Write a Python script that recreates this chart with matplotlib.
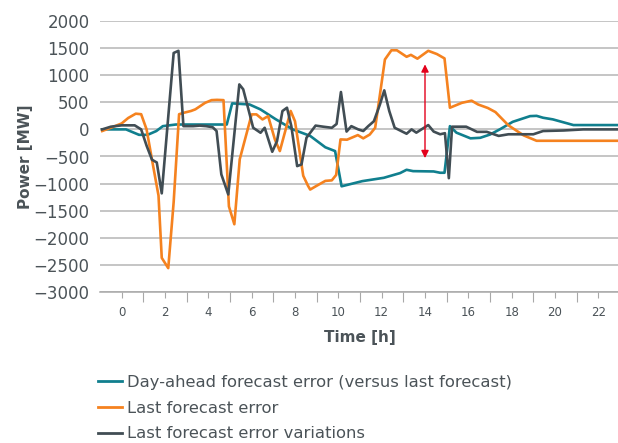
import matplotlib
matplotlib.use("Agg")
import matplotlib.pyplot as plt
from matplotlib.lines import Line2D

plt.rcParams['font.family'] = ['DejaVu Sans']

# Day-ahead forecast error (versus last forecast)
t_da = [-0.9, 0.2, 0.5, 0.8, 1.2, 1.6, 1.9, 2.5, 3.5, 4.5, 4.85, 5.1, 5.9, 6.4, 7.1,
        7.9, 8.7, 9.4, 9.85, 10.15, 11.1, 12.1, 12.85, 13.15, 13.45, 14.4, 14.7,
        14.9, 15.15, 15.45, 16.1, 16.55, 17.0, 17.45, 18.05, 18.85, 19.15, 19.45, 19.9,
        20.85, 22.9]
v_da = [0, 0, -50, -100, -100, -30, 60, 90, 90, 90, 90, 480, 460, 370, 190,
        0, -120, -330, -400, -1050, -955, -893, -806, -745, -770, -776, -800,
        -800, 60, -60, -165, -155, -95, 0, 140, 245, 250, 215, 185,
        80, 80]

# Last forecast error
t_lf = [-0.9, -0.5, 0, 0.3, 0.65, 0.9, 1.15, 1.45, 1.7, 1.85, 2.15, 2.4, 2.65, 2.9, 3.2,
        3.4, 3.85, 4.15, 4.4, 4.7, 4.95, 5.2, 5.45, 6.0, 6.22, 6.5, 6.76, 7.07, 7.3,
        7.8, 8.0, 8.38, 8.6, 8.7, 9.0, 9.4, 9.7, 9.9, 10.1, 10.4, 10.9, 11.15, 11.45,
        11.7, 11.9, 12.15, 12.45, 12.7, 13.15, 13.35, 13.65, 14.15, 14.55, 14.9, 15.15,
        15.7, 16.15, 16.45, 16.9, 17.25, 17.85, 18.55, 19.15, 22.9]
v_lf = [-30, 30, 110, 210, 290, 280, 0, -670, -1220, -2370, -2560, -1340, 280, 310, 340,
        370, 490, 540, 545, 540, -1420, -1750, -550, 277, 277, 184, 245, -184, -400,
        340, 150, -855, -1040, -1110, -1040, -950, -940, -840, -185, -190, -105, -165, -95,
        30, 585, 1290, 1460, 1460, 1340, 1375, 1305, 1450, 1390, 1310, 400,
        490, 530, 460, 395, 320, 75, -110, -210, -210]

# Last forecast error variations
t_var = [-0.9, -0.5, 0, 0.6, 0.9, 1.15, 1.4, 1.62, 1.85, 2.4, 2.62, 2.85, 3.3, 3.6, 3.9,
         4.2, 4.38, 4.6, 4.92, 5.43, 5.61, 6.07, 6.41, 6.6, 6.95, 7.17, 7.42, 7.63, 7.83,
         8.1, 8.3, 8.53, 8.95, 9.3, 9.7, 9.92, 10.12, 10.38, 10.6, 10.92, 11.15, 11.38,
         11.64, 11.92, 12.12, 12.35, 12.6, 13.15, 13.38, 13.6, 14.15, 14.4, 14.7, 14.92,
         15.1, 15.25, 15.9, 16.4, 16.85, 17.4, 17.85, 19.0, 19.45, 20.4, 21.3, 22.9]
v_var = [0, 50, 75, 75, 0, -300, -560, -610, -1180, 1410, 1450, 60, 60, 70, 60,
         40, -30, -830, -1200, 830, 740, 30, -62, 30, -413, -216, 339, 400, 61,
         -677, -647, -154, 70, 50, 30, 100, 690, -40, 60, 0, -30, 60,
         150, 460, 720, 340, 30, -80, 0, -60, 80, -40, -90, -70,
         -900, 50, 50, -45, -45, -120, -90, -90, -30, -20, 0, 0]

labels = ["Day-ahead forecast error (versus last forecast)",
          "Last forecast error",
          "Last forecast error variations"]
colors = ["#107f8e", "#f5821f", "#414d54"]
text_color = "#4b5358"

fig = plt.figure(figsize=(6.18, 4.43), dpi=100)
ax = fig.add_axes([100 / 618, 1 - 292 / 443, 520 / 618, 271 / 443])

for t, v, c in zip([t_da, t_lf, t_var], [v_da, v_lf, v_var], colors):
    ax.plot(t, v, color=c, lw=1.9, solid_joinstyle='round')

# red double arrow marking the gap between the two forecast errors
ax.annotate("", xy=(14, 1200), xytext=(14, -530),
            arrowprops=dict(arrowstyle='<|-|>', color='#e3001b', lw=1.0,
                            mutation_scale=11, shrinkA=0, shrinkB=0))

ax.set_xlim(-1, 23)
ax.set_ylim(-3000, 2000)
ax.set_yticks(range(-3000, 2001, 500))
ax.set_xticks(range(0, 23, 2))
ax.set_xticks(range(1, 23, 2), minor=True)
ax.yaxis.grid(True, color='#b5b5b5', lw=1.1)
ax.set_axisbelow(True)
for s in ['left', 'right', 'top']:
    ax.spines[s].set_visible(False)
ax.spines['bottom'].set_color('#a8a8a8')
ax.spines['bottom'].set_linewidth(1.1)
ax.tick_params(axis='y', length=0, pad=7.5, labelsize=12, labelcolor=text_color)
ax.tick_params(axis='x', which='major', length=4, width=0.8, color='#a8a8a8', pad=6,
               labelsize=8.5, labelcolor=text_color)
ax.tick_params(axis='x', which='minor', length=7, width=0.8, color='#a8a8a8')

ax.set_ylabel("Power [MW]", fontsize=11, fontweight='bold', color=text_color)
ax.yaxis.set_label_coords(-0.128, 0.5)
ax.set_xlabel("Time [h]", fontsize=11, fontweight='bold', color=text_color, labelpad=8)

handles = [Line2D([0], [0], color=c, lw=2) for c in colors]
fig.legend(handles, labels, loc='upper left', bbox_to_anchor=(98 / 618, 1 - 375 / 443),
           frameon=False, fontsize=11.8, handlelength=1.45, handletextpad=0.3,
           labelspacing=0.65, borderpad=0, borderaxespad=0, labelcolor=text_color)

fig.savefig("out.png", dpi=100)
